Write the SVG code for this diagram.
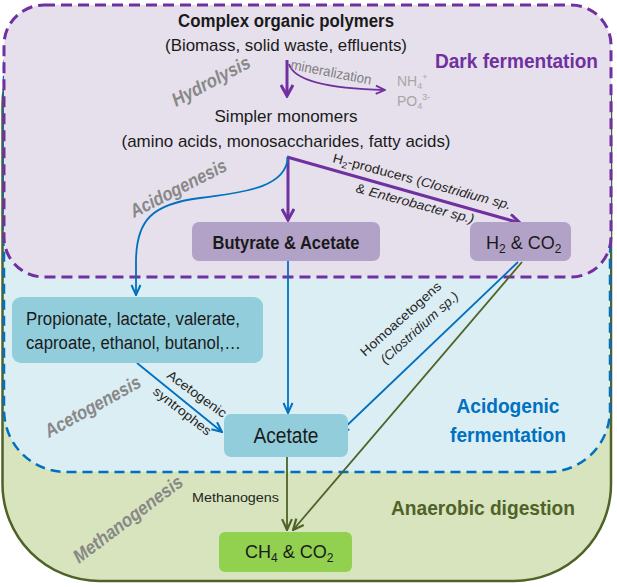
<svg xmlns="http://www.w3.org/2000/svg" width="617" height="587" viewBox="0 0 617 587">
<style>
text{font-family:'Liberation Sans Narrow','Liberation Sans',Arial,sans-serif;fill:#1a1a1a}
.b{font-weight:bold}
.proc{font-weight:bold;font-style:italic;fill:#888888;font-size:19px}
.lab{font-size:13px;fill:#262626}
.blue{stroke:#0070c0;stroke-width:1.8;fill:none}
.pur{stroke:#7030a0;stroke-width:3;fill:none}
.olive{stroke:#4f6228;stroke-width:1.8;fill:none}
</style>
<defs>
<marker id="ahB" viewBox="0 0 12 12" refX="11" refY="6" markerWidth="12" markerHeight="12" markerUnits="userSpaceOnUse" orient="auto"><path d="M1,1.5 L11,6 L1,10.5" fill="none" stroke="#0070c0" stroke-width="2"/></marker>
<marker id="ahP" viewBox="0 0 14 14" refX="12.5" refY="7" markerWidth="14" markerHeight="14" markerUnits="userSpaceOnUse" orient="auto"><path d="M1.5,1 L12.5,7 L1.5,13" fill="none" stroke="#7030a0" stroke-width="3"/></marker>
<marker id="ahPs" viewBox="0 0 12 12" refX="11" refY="6" markerWidth="11" markerHeight="11" markerUnits="userSpaceOnUse" orient="auto"><path d="M1,1.5 L11,6 L1,10.5" fill="none" stroke="#7030a0" stroke-width="2"/></marker>
<marker id="ahO" viewBox="0 0 12 12" refX="11" refY="6" markerWidth="13" markerHeight="13" markerUnits="userSpaceOnUse" orient="auto"><path d="M1,1.5 L11,6 L1,10.5" fill="none" stroke="#4f6228" stroke-width="2"/></marker>
</defs>

<g id="region-anaerobic">
<rect x="2.5" y="8" width="608.5" height="573" rx="97" fill="#d7e4bd" stroke="#4f6228" stroke-width="2.5"/>
</g>
<g id="region-acidogenic">
<rect x="4" y="8" width="606" height="464" rx="62" fill="#dbeef4" stroke="#0070c0" stroke-width="2.5" stroke-dasharray="10,6"/>
</g>
<g id="region-dark">
<rect x="4" y="5" width="607" height="272" rx="40" fill="#e6e0ec" stroke="#7030a0" stroke-width="3" stroke-dasharray="11,6"/>
</g>

<g id="region-labels">
<text x="435" y="68" class="b" font-size="21" style="fill:#7030a0" textLength="163" lengthAdjust="spacingAndGlyphs">Dark fermentation</text>
<text x="456.5" y="413" class="b" font-size="21" style="fill:#0070c0" textLength="103" lengthAdjust="spacingAndGlyphs">Acidogenic</text>
<text x="450" y="442" class="b" font-size="21" style="fill:#0070c0" textLength="116" lengthAdjust="spacingAndGlyphs">fermentation</text>
<text x="391" y="515" class="b" font-size="21" style="fill:#4f6228" textLength="184" lengthAdjust="spacingAndGlyphs">Anaerobic digestion</text>
<text class="proc" transform="translate(176,107) rotate(-28)" textLength="86" lengthAdjust="spacingAndGlyphs">Hydrolysis</text>
<text class="proc" transform="translate(134,218) rotate(-27)" textLength="106" lengthAdjust="spacingAndGlyphs">Acidogenesis</text>
<text class="proc" transform="translate(49,438) rotate(-29)" textLength="107" lengthAdjust="spacingAndGlyphs">Acetogenesis</text>
<text class="proc" transform="translate(79,564) rotate(-37)" textLength="132" lengthAdjust="spacingAndGlyphs">Methanogenesis</text>
</g>

<g id="connectors">
<line x1="287" y1="60" x2="287" y2="96" class="pur" marker-end="url(#ahP)"/>
<path d="M289,64 Q296,88 385,90" stroke="#7030a0" stroke-width="1.8" fill="none" marker-end="url(#ahPs)"/>
<line x1="288" y1="157" x2="288" y2="220" class="pur" marker-end="url(#ahP)"/>
<line x1="287" y1="157" x2="520" y2="223" class="pur" marker-end="url(#ahP)"/>
<path d="M288,157 C286,186 250,192 200,198 C152,204 136,220 136,262 L136,295" class="blue" marker-end="url(#ahB)"/>
<line x1="288" y1="261" x2="288" y2="413" class="blue" marker-end="url(#ahB)"/>
<line x1="137" y1="363" x2="222" y2="432" class="blue" marker-end="url(#ahB)"/>
<line x1="518" y1="262" x2="339" y2="433" class="blue" marker-end="url(#ahB)"/>
<line x1="522" y1="262" x2="293" y2="530" class="olive" marker-end="url(#ahO)"/>
<line x1="287" y1="457" x2="287" y2="530" class="olive" marker-end="url(#ahO)"/>
</g>

<g id="connector-labels">
<text transform="translate(290,69) rotate(11)" font-size="14" style="fill:#7f7f7f" textLength="82" lengthAdjust="spacingAndGlyphs">mineralization</text>
<g transform="translate(332,162) rotate(15)">
<text class="lab" font-size="14" textLength="184" lengthAdjust="spacingAndGlyphs">H<tspan font-size="9" dy="3">2</tspan><tspan dy="-3">-producers (</tspan><tspan font-style="italic">Clostridium sp.</tspan></text>
<text class="lab" x="30" y="23" font-size="14" textLength="122" lengthAdjust="spacingAndGlyphs">&amp;  <tspan font-style="italic">Enterobacter sp.)</tspan></text>
</g>
<g transform="translate(365,357) rotate(-42)">
<text class="lab" font-size="14" textLength="104" lengthAdjust="spacingAndGlyphs">Homoacetogens</text>
<text class="lab" x="10" y="19" font-size="14" font-style="italic" textLength="100" lengthAdjust="spacingAndGlyphs">(Clostridium sp.)</text>
</g>
<text class="lab" transform="translate(166,377) rotate(36)" font-size="14" textLength="70" lengthAdjust="spacingAndGlyphs">Acetogenic</text>
<text class="lab" transform="translate(152,393) rotate(38)" font-size="14" textLength="70" lengthAdjust="spacingAndGlyphs">syntrophes</text>
<text class="lab" x="192" y="502" font-size="13" textLength="87" lengthAdjust="spacingAndGlyphs">Methanogens</text>
</g>

<g id="node-complex">
<text x="286" y="27" class="b" font-size="18" text-anchor="middle" textLength="216" lengthAdjust="spacingAndGlyphs">Complex organic polymers</text>
<text x="286" y="51" font-size="17" text-anchor="middle" textLength="242" lengthAdjust="spacingAndGlyphs">(Biomass, solid waste, effluents)</text>
</g>
<g id="node-minerals">
<text x="397" y="86" font-size="14" style="fill:#a6a6a6">NH<tspan font-size="9" dy="3">4</tspan><tspan font-size="9" dy="-9">+</tspan></text>
<text x="397" y="106" font-size="14" style="fill:#a6a6a6">PO<tspan font-size="9" dy="3">4</tspan><tspan font-size="9" dy="-9">3-</tspan></text>
</g>
<g id="node-monomers">
<text x="286" y="122" font-size="17" text-anchor="middle" textLength="143" lengthAdjust="spacingAndGlyphs">Simpler monomers</text>
<text x="286" y="147" font-size="17" text-anchor="middle" textLength="329" lengthAdjust="spacingAndGlyphs">(amino acids, monosaccharides, fatty acids)</text>
</g>
<g id="node-butyrate">
<rect x="192" y="222" width="188" height="39" rx="7" fill="#b3a2c7"/>
<text x="286" y="249" class="b" font-size="19" text-anchor="middle" textLength="147" lengthAdjust="spacingAndGlyphs">Butyrate &amp; Acetate</text>
</g>
<g id="node-h2">
<rect x="470" y="222" width="101" height="39" rx="7" fill="#b3a2c7"/>
<text x="486" y="249" font-size="18">H<tspan font-size="12" dy="4">2</tspan><tspan dy="-4"> &amp; CO</tspan><tspan font-size="12" dy="4">2</tspan></text>
</g>
<g id="node-propionate">
<rect x="12" y="297" width="251" height="66" rx="9" fill="#92cddc"/>
<text x="26" y="325" font-size="18" textLength="214" lengthAdjust="spacingAndGlyphs">Propionate, lactate, valerate,</text>
<text x="26" y="349" font-size="18" textLength="215" lengthAdjust="spacingAndGlyphs">caproate, ethanol, butanol,…</text>
</g>
<g id="node-acetate">
<rect x="224" y="414" width="124" height="43" rx="7" fill="#92cddc"/>
<text x="286" y="443" font-size="22" text-anchor="middle" textLength="65" lengthAdjust="spacingAndGlyphs">Acetate</text>
</g>
<g id="node-ch4">
<rect x="219" y="532" width="133" height="40" rx="6" fill="#92d050"/>
<text x="245" y="558" font-size="18">CH<tspan font-size="12" dy="4">4</tspan><tspan dy="-4"> &amp; CO</tspan><tspan font-size="12" dy="4">2</tspan></text>
</g>
</svg>
